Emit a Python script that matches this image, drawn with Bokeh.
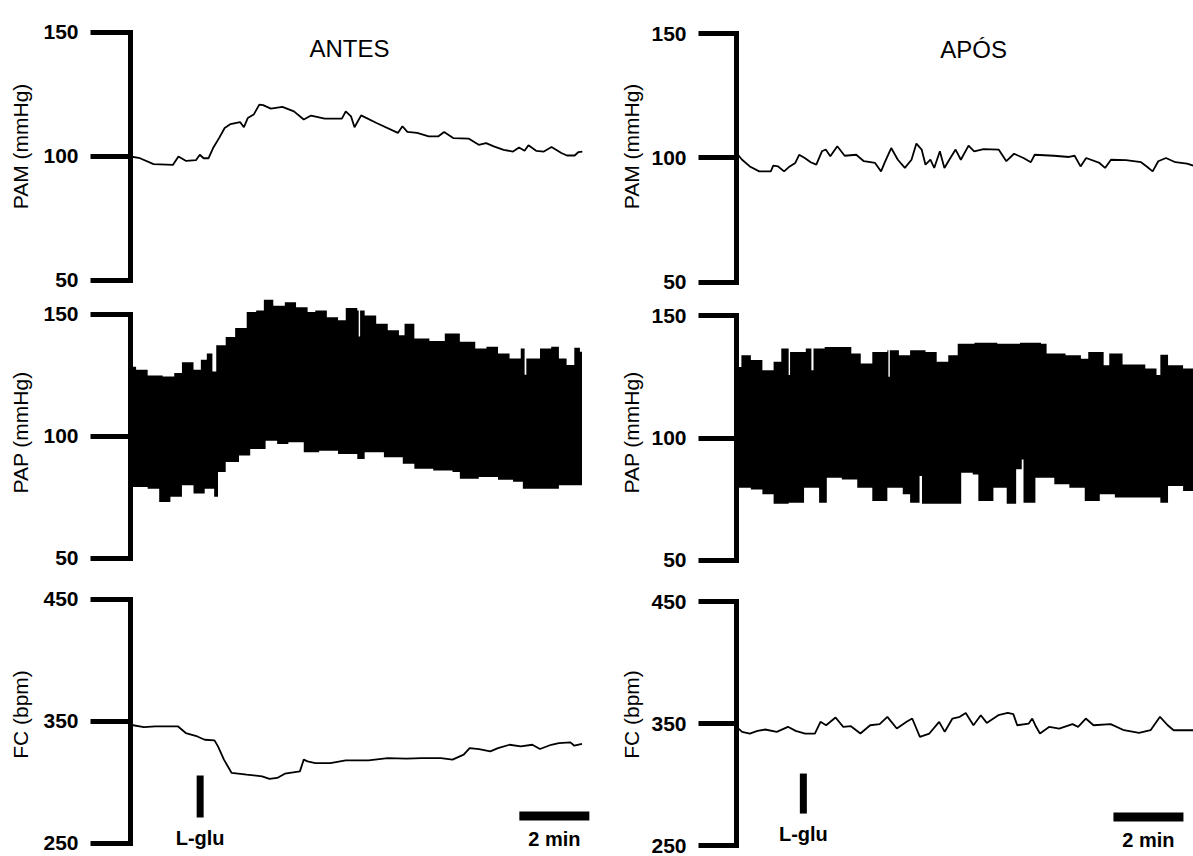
from bokeh.plotting import figure
from bokeh.layouts import gridplot
from bokeh.models import FixedTicker, Range1d
from bokeh.embed import file_html
from bokeh.resources import INLINE
from bokeh.core.properties import value

FONT = "Liberation Sans"

# ---------------- data (time in minutes) ----------------
titles = ["ANTES", "APÓS"]
pam_ticks = [50, 100, 150]
pap_ticks = [50, 100, 150]
fc_ticks = [250, 350, 450]
injection_label = "L-glu"
scale_label = "2 min"
scale_minutes = 2

pam_antes = [(0, 100), (0.27, 99.3), (0.66, 96.9), (1.21, 96.6), (1.37, 100), (1.59, 98.2), (1.87, 98.5),
             (1.98, 100.7), (2.09, 99.3), (2.23, 99.3), (2.36, 103.4), (2.53, 107.4), (2.69, 111.5),
             (2.86, 113.1), (3.13, 113.9), (3.24, 111.8), (3.35, 115.5), (3.52, 116.9), (3.68, 120.9),
             (3.79, 120.7), (4.01, 119.3), (4.34, 120), (4.67, 118.2), (4.95, 114.9), (5.16, 116.5),
             (5.55, 115.3), (6.04, 115.3), (6.15, 118.2), (6.3, 116.2), (6.4, 111.8), (6.59, 116.6),
             (7.03, 113.5), (7.64, 109.5), (7.77, 112.2), (7.91, 109.9), (8.19, 109.5), (8.52, 108.1),
             (8.79, 108.1), (8.96, 109.9), (9.23, 107.4), (9.67, 107.2), (9.95, 104.7), (10.16, 105.4),
             (10.38, 104.1), (10.66, 102.7), (10.93, 102), (11.1, 103.6), (11.26, 102.3), (11.37, 104.5),
             (11.59, 102.3), (11.81, 102), (12.03, 103.8), (12.31, 101.4), (12.47, 100.4), (12.69, 100.4),
             (12.8, 101.8), (12.91, 102)]

pam_apos = [(0, 102), (0.16, 99.3), (0.38, 96.6), (0.65, 94.6), (0.98, 94.6), (1.05, 96.9), (1.19, 96.6),
            (1.36, 94.6), (1.52, 96.6), (1.68, 98), (1.79, 101.3), (1.95, 100), (2.12, 98.3), (2.28, 97.3),
            (2.44, 102.7), (2.55, 103.4), (2.68, 100.7), (2.88, 104.7), (3.09, 100.9), (3.42, 101.3),
            (3.64, 98.7), (3.96, 98), (4.13, 94.6), (4.23, 98), (4.42, 104), (4.61, 99.3), (4.81, 96),
            (5.0, 99.3), (5.14, 105.8), (5.29, 103.4), (5.4, 97.3), (5.54, 99.3), (5.65, 96), (5.81, 102.7),
            (5.94, 96), (6.08, 99.3), (6.26, 103.4), (6.41, 99.3), (6.63, 105), (6.79, 102.7), (7.06, 103.6),
            (7.49, 103.4), (7.71, 98.7), (7.93, 101.7), (8.2, 100), (8.41, 98.3), (8.52, 101.3), (9.07, 100.9),
            (9.5, 100.4), (9.66, 100.9), (9.83, 96.6), (9.99, 100), (10.37, 98), (10.53, 96), (10.7, 99.3),
            (11.13, 99.1), (11.56, 98.3), (11.72, 96.6), (11.89, 94.6), (12.05, 98.7), (12.27, 100),
            (12.54, 98.3), (12.87, 97.7), (13.06, 96.9)]

pap_antes_sys = [(0, 128.6), (0.16, 127.3), (0.49, 125), (0.92, 124.6), (1.25, 126), (1.47, 130.4), (1.8, 127.3),
                 (2.01, 131.4), (2.18, 134), (2.34, 126.6), (2.45, 137.4), (2.72, 140.8), (2.99, 144.5),
                 (3.32, 151), (3.59, 151.6), (3.81, 156), (4.08, 153.6), (4.41, 155), (4.73, 153), (5.06, 151),
                 (5.28, 151.6), (5.61, 148.9), (5.93, 147.6), (6.15, 152.6), (6.48, 151.6), (6.52, 141),
                 (6.56, 151.6), (6.69, 149.6), (7.02, 146.2), (7.35, 143.5), (7.67, 141.5), (7.83, 146.2),
                 (8.11, 140.1), (8.54, 139.1), (8.98, 142.2), (9.41, 138.8), (9.85, 136.1), (10.17, 136.8),
                 (10.5, 134), (10.83, 132), (11.15, 136.1), (11.26, 125.3), (11.31, 132), (11.48, 132),
                 (11.7, 136.1), (12.02, 136.8), (12.24, 132), (12.46, 129.3), (12.68, 136.4), (12.84, 134.7),
                 (12.9, 129.3)]

pap_antes_dia = [(0, 79.3), (0.49, 78.6), (0.82, 73.2), (1.14, 75.3), (1.47, 80), (1.8, 76.6), (2.12, 78.6),
                 (2.39, 75.3), (2.5, 85.4), (2.72, 89.5), (3.1, 92.2), (3.42, 94.9), (3.86, 98.2), (4.19, 96.9),
                 (4.51, 97.6), (4.95, 93.5), (5.39, 94.2), (5.93, 92.8), (6.48, 90.8), (6.69, 93.5), (7.24, 91.5),
                 (7.78, 88.8), (8.11, 86.8), (8.65, 86.1), (9.2, 85.4), (9.41, 82.7), (9.95, 83.4), (10.5, 82.3),
                 (10.93, 81.4), (11.21, 78.6), (12.02, 78.6), (12.24, 80), (12.9, 79.3)]

pap_apos_sys = [(0, 146), (0.05, 129), (0.14, 133.8), (0.41, 131.8), (0.74, 127.7), (1.06, 131.1), (1.28, 136.5),
                (1.49, 125.7), (1.53, 135.1), (1.71, 135.1), (1.98, 136.5), (2.14, 127.7), (2.2, 136.5),
                (2.52, 137.2), (2.9, 137.2), (3.28, 134.5), (3.55, 130.4), (3.88, 135.1), (4.31, 135.8),
                (4.34, 125), (4.38, 135.8), (4.64, 133.8), (4.96, 135.8), (5.4, 135.1), (5.72, 131.1),
                (6.05, 133.8), (6.32, 138.5), (6.8, 138.9), (7.45, 138.5), (8.1, 138.9), (8.7, 138.5),
                (8.86, 134.5), (9.4, 133.8), (9.84, 132.4), (10.05, 135.1), (10.49, 129.7), (10.65, 134.5),
                (11.03, 130), (11.68, 128.4), (12.0, 125.7), (12.11, 134), (12.33, 129.7), (12.76, 128.4),
                (13.06, 127.7)]

pap_apos_dia = [(0, 79.7), (0.41, 79), (0.74, 77), (1.06, 73.2), (1.49, 73.6), (1.93, 79.7), (2.36, 73.6),
                (2.58, 83.8), (3.01, 83.1), (3.45, 79.7), (3.88, 74.3), (4.31, 79.7), (4.75, 77), (4.96, 73.6),
                (5.23, 84.5), (5.3, 73.2), (5.5, 73.2), (6.05, 73.2), (6.42, 85.8), (6.75, 85.1), (6.91, 74.3),
                (7.34, 79.7), (7.72, 73.2), (7.99, 87.2), (8.15, 91.2), (8.2, 73.6), (8.32, 73.6), (8.54, 83.8),
                (9.08, 81.1), (9.51, 79.7), (9.95, 74.3), (10.38, 77), (10.81, 75.7), (11.46, 75.7),
                (12.11, 73.6), (12.33, 80.4), (12.76, 78.4), (13.06, 77.7)]

fc_antes = [(0, 347.3), (0.38, 345.4), (0.71, 345.9), (1.36, 345.9), (1.58, 340.5), (1.91, 337.7), (2.12, 335),
            (2.4, 334.5), (2.5, 329.6), (2.67, 318.7), (2.89, 307.8), (3.32, 306.4), (3.76, 305), (3.97, 302.9),
            (4.19, 303.7), (4.41, 307.2), (4.84, 309.1), (4.95, 318.7), (5.06, 317.3), (5.28, 315.9),
            (5.71, 315.9), (6.15, 318.1), (6.8, 318.1), (7.35, 320), (7.89, 319.5), (8.32, 320), (8.87, 320),
            (9.2, 318.7), (9.52, 322.8), (9.69, 328.2), (9.96, 327.4), (10.28, 325.5), (10.5, 328.2),
            (10.83, 330.9), (11.15, 329.6), (11.48, 330.9), (11.7, 327.4), (12.02, 330.9), (12.24, 332.3),
            (12.57, 332.8), (12.68, 330.1), (12.9, 331.7)]

fc_apos = [(0, 347.3), (0.16, 343.2), (0.38, 341.8), (0.6, 344), (0.82, 345.1), (1.15, 343.2), (1.47, 347.3),
           (1.69, 344), (1.96, 341.8), (2.24, 341.8), (2.4, 351.4), (2.56, 348.6), (2.83, 354.9), (3.05, 347.3),
           (3.27, 347.8), (3.54, 341.8), (3.82, 348.6), (4.09, 349.5), (4.31, 355.5), (4.58, 345.9),
           (4.86, 351.4), (5.02, 354.1), (5.24, 339.1), (5.51, 341.8), (5.79, 351.4), (5.95, 343.2),
           (6.17, 354.1), (6.38, 355.5), (6.55, 358.7), (6.77, 348.6), (6.98, 356.8), (7.15, 350.5),
           (7.48, 356.8), (7.75, 358.7), (7.91, 357.7), (8.02, 348.6), (8.35, 350), (8.45, 354.1),
           (8.56, 347.3), (8.67, 341.8), (8.94, 347.3), (9.22, 345.9), (9.6, 349.5), (9.76, 347.3),
           (9.98, 354.1), (10.2, 348.6), (10.69, 349.5), (11.07, 344.5), (11.5, 342.3), (11.83, 344.5),
           (12.1, 355.5), (12.32, 348.6), (12.49, 344.5), (13.06, 344.5)]

injection_time = [1.99, 1.91]          # L-glu marker (min), ANTES / APÓS
scale_bar_end = [13.11, 12.77]         # end of the 2-min scale bar (min)


def split(pairs):
    return [a for a, _ in pairs], [b for _, b in pairs]


def panel(width, height, border_left, x_end, y_lo, y_hi, ticks, label, tick_out, label_standoff):
    p = figure(width=width, height=height, x_range=Range1d(0, x_end), y_range=Range1d(y_lo, y_hi),
               x_axis_type=None, toolbar_location=None, output_backend="svg",
               min_border_left=border_left, min_border_right=0, min_border_top=0, min_border_bottom=0)
    p.outline_line_color = None
    p.background_fill_color = "white"
    p.border_fill_color = "white"
    p.xgrid.visible = False
    p.ygrid.visible = False
    ax = p.yaxis[0]
    ax.ticker = FixedTicker(ticks=ticks)
    ax.bounds = (ticks[0], ticks[-1])
    ax.axis_line_width = 5
    ax.axis_line_cap = "square"
    ax.axis_line_color = "black"
    ax.major_tick_line_width = 5
    ax.major_tick_line_color = "black"
    ax.major_tick_out = tick_out
    ax.major_tick_in = 0
    ax.minor_tick_line_color = None
    ax.major_label_standoff = 12
    ax.major_label_text_font = FONT
    ax.major_label_text_font_size = "21px"
    ax.major_label_text_font_style = "bold"
    ax.major_label_text_color = "black"
    ax.axis_label = label
    ax.axis_label_text_font = FONT
    ax.axis_label_text_font_size = "21px"
    ax.axis_label_text_font_style = "normal"
    ax.axis_label_text_color = "black"
    ax.axis_label_standoff = label_standoff
    return p


row_heights = [292, 280, 284]

cols = [
    dict(width=600, bl=130, tick_out=40, ls=8, x_end=470 / 35,
         pam_range=(45.16, 162.9), pap_range=(44.26, 159.0), fc_range=(239.3, 472.1),
         pam=pam_antes, sys=pap_antes_sys, dia=pap_antes_dia, fc=fc_antes),
    dict(width=593, bl=136, tick_out=38, ls=5, x_end=457 / 35,
         pam_range=(45.85, 163.4), pap_range=(45.1, 159.4), fc_range=(241.0, 473.8),
         pam=pam_apos, sys=pap_apos_sys, dia=pap_apos_dia, fc=fc_apos),
]

rows = [[], [], []]
for i, c in enumerate(cols):
    # PAM
    p1 = panel(c["width"], row_heights[0], c["bl"], c["x_end"], *c["pam_range"], pam_ticks, "PAM (mmHg)",
               c["tick_out"], c["ls"])
    t, v = split(c["pam"])
    p1.line(t, v, line_color="black", line_width=1.8)
    p1.text(x=[c["x_end"] * (0.466 if i == 0 else 0.519)], y=[143.5], text=[titles[i]],
            text_align="center", text_baseline="middle", text_font=value(FONT),
            text_font_size="24px", text_color="black")
    rows[0].append(p1)

    # PAP
    p2 = panel(c["width"], row_heights[1], c["bl"], c["x_end"], *c["pap_range"], pap_ticks, "PAP (mmHg)",
               c["tick_out"], c["ls"])
    ts, vs = split(c["sys"])
    td, vd = split(c["dia"])
    p2.varea_step(x=ts, y1=[108] * len(ts), y2=vs, step_mode="after", fill_color="black")
    p2.varea_step(x=td, y1=vd, y2=[112] * len(td), step_mode="after", fill_color="black")
    rows[1].append(p2)

    # FC
    p3 = panel(c["width"], row_heights[2], c["bl"], c["x_end"], *c["fc_range"], fc_ticks, "FC (bpm)",
               c["tick_out"], c["ls"])
    t, v = split(c["fc"])
    p3.line(t, v, line_color="black", line_width=1.8)
    inj = injection_time[i]
    top_v, bot_v = (305.7, 271.3) if i == 0 else (309.0, 276.2)
    p3.segment(x0=[inj], y0=[bot_v], x1=[inj], y1=[top_v], line_color="black", line_width=7)
    p3.text(x=[inj], y=[bot_v - 17], text=[injection_label], text_align="center", text_baseline="middle",
            text_font=value(FONT), text_font_size="20px", text_font_style="bold", text_color="black")
    se = scale_bar_end[i]
    bar_v = 272.5 if i == 0 else 273.4
    p3.segment(x0=[se - scale_minutes], y0=[bar_v], x1=[se], y1=[bar_v], line_color="black", line_width=9)
    p3.text(x=[se - scale_minutes / 2], y=[bar_v - 19], text=[scale_label], text_align="center",
            text_baseline="middle", text_font=value(FONT), text_font_size="20px", text_font_style="bold",
            text_color="black")
    rows[2].append(p3)

grid = gridplot(rows, toolbar_location=None)
open("out.html", "w").write(file_html(grid, INLINE))
